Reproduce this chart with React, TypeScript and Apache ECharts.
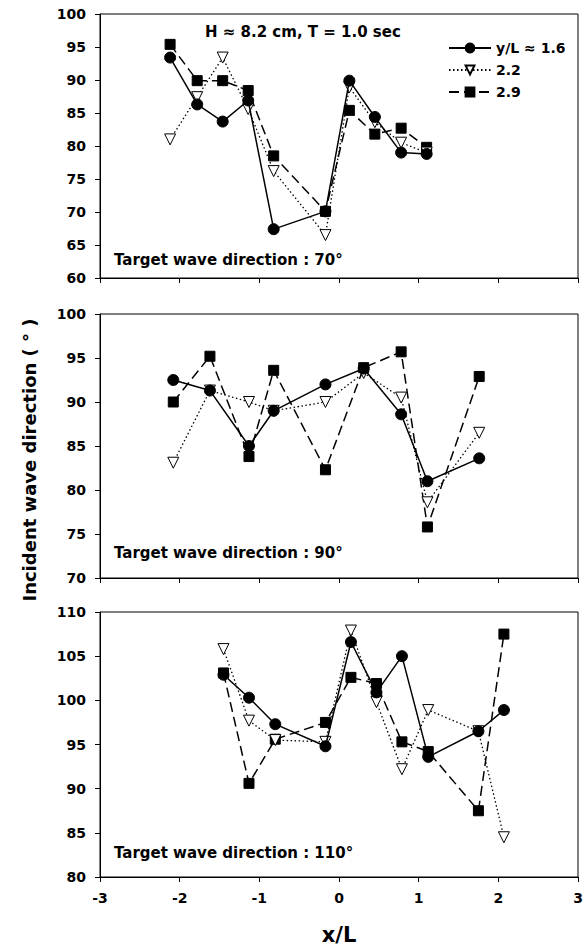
import React, { useEffect, useRef } from "react";
import * as echarts from "echarts";

const seriesNames = ["y/L ≈ 1.6", "2.2", "2.9"];

// Panel 1: target 70°
const p1X = [-2.12, -1.78, -1.46, -1.14, -0.82, -0.17, 0.13, 0.45, 0.78, 1.1];
const p1A = [93.4, 86.3, 83.7, 86.9, 67.4, 70.1, 89.9, 84.4, 79.0, 78.8];
const p1B = [81.0, 87.4, 93.4, 85.6, 76.2, 66.5, 88.9, 83.6, 80.5, 79.0];
const p1C = [95.4, 89.9, 89.9, 88.4, 78.5, 70.1, 85.4, 81.8, 82.7, 79.8];

// Panel 2: target 90°
const p2X = [-2.08, -1.62, -1.13, -0.82, -0.17, 0.31, 0.78, 1.11, 1.76];
const p2A = [92.5, 91.3, 85.0, 89.0, 92.0, 93.8, 88.6, 81.0, 83.6];
const p2B = [83.1, 91.3, 90.0, 89.0, 90.0, 93.3, 90.5, 78.6, 86.5];
const p2C = [90.0, 95.2, 83.8, 93.6, 82.3, 93.9, 95.7, 75.8, 92.9];

// Panel 3: target 110°
const p3X = [-1.45, -1.13, -0.8, -0.17, 0.15, 0.47, 0.79, 1.12, 1.75, 2.07];
const p3A = [102.9, 100.3, 97.3, 94.8, 106.6, 100.9, 105.0, 93.6, 96.5, 98.9];
const p3B = [105.8, 97.7, 95.5, 95.3, 107.9, 99.8, 92.2, 98.9, 96.5, 84.5];
const p3C = [103.1, 90.6, 95.6, 97.5, 102.6, 101.9, 95.3, 94.2, 87.5, 107.5];

const yRanges = [
  [60, 100],
  [70, 100],
  [80, 110],
];
const xTicks = [-3, 3];
const panelLabels = [
  "Target wave direction : 70°",
  "Target wave direction : 90°",
  "Target wave direction : 110°",
];
const titleText = "H ≈ 8.2 cm, T = 1.0 sec";
const yTitle = "Incident wave direction ( ° )";
const xTitle = "x/L";

const FONT = "'DejaVu Sans', sans-serif";

export default function App() {
  const ref = useRef<HTMLDivElement>(null);
  useEffect(() => {
    if (!ref.current) return;
    const chart = echarts.init(ref.current, undefined, { renderer: "svg" });
    const grids = [
      { left: 100, top: 14, width: 478, height: 264 },
      { left: 100, top: 314, width: 478, height: 264 },
      { left: 100, top: 612, width: 478, height: 265 },
    ];
    const panels = [
      { x: p1X, ys: [p1A, p1B, p1C] },
      { x: p2X, ys: [p2A, p2B, p2C] },
      { x: p3X, ys: [p3A, p3B, p3C] },
    ];
    const styles = [
      { symbol: "circle", symbolSize: 11, rotate: 0, item: { color: "#000", borderColor: "#000", borderWidth: 1 }, line: { color: "#000", width: 1.5, type: "solid" as any } },
      { symbol: "triangle", symbolSize: 11, rotate: 180, item: { color: "#fff", borderColor: "#000", borderWidth: 1 }, line: { color: "#000", width: 1.3, type: [1.5, 2.5] as any } },
      { symbol: "rect", symbolSize: 10, rotate: 0, item: { color: "#000", borderColor: "#000", borderWidth: 1 }, line: { color: "#000", width: 1.5, type: [10, 5] as any } },
    ];
    const series: any[] = [];
    panels.forEach((p, gi) => {
      p.ys.forEach((ys, si) => {
        const s = styles[si];
        series.push({
          type: "line",
          name: seriesNames[si],
          xAxisIndex: gi,
          yAxisIndex: gi,
          data: p.x.map((x, i) => [x, ys[i]]),
          symbol: s.symbol,
          symbolSize: s.symbolSize,
          symbolRotate: s.rotate,
          showAllSymbol: true,
          itemStyle: s.item,
          lineStyle: s.line,
          z: 10 - si,
        });
      });
    });
    const labelStyle = { color: "#000", fontFamily: FONT, fontWeight: "bold" as const, fontSize: 14 };
    chart.setOption({
      animation: false,
      backgroundColor: "#fff",
      grid: grids.map((g) => ({ ...g, show: true, borderColor: "#000", borderWidth: 1, backgroundColor: "transparent" })),
      xAxis: grids.map((_, gi) => ({
        type: "value",
        gridIndex: gi,
        min: xTicks[0],
        max: xTicks[1],
        interval: 1,
        axisLine: { show: true, onZero: false, lineStyle: { color: "#000", width: 1 } },
        axisTick: { show: true, inside: false, length: 5, lineStyle: { color: "#000" } },
        axisLabel: { show: gi === 2, ...labelStyle, fontSize: 14, margin: 14 },
        splitLine: { show: false },
      })),
      yAxis: grids.map((_, gi) => ({
        type: "value",
        gridIndex: gi,
        min: yRanges[gi][0],
        max: yRanges[gi][1],
        interval: 5,
        axisLine: { show: true, onZero: false, lineStyle: { color: "#000", width: 1 } },
        axisTick: { show: true, inside: false, length: 5, lineStyle: { color: "#000" } },
        axisLabel: { ...labelStyle, fontSize: 14, margin: 14 },
        splitLine: { show: false },
      })),
      legend: {
        data: seriesNames,
        orient: "vertical",
        left: 443,
        top: 36,
        itemWidth: 42,
        itemHeight: 11,
        itemGap: 8,
        textStyle: { ...labelStyle, fontSize: 14 },
        selectedMode: false,
      },
      graphic: [
        {
          type: "text",
          left: 205,
          top: 24,
          style: { text: titleText, fill: "#000", font: `bold 15px ${FONT}` },
        },
        ...panelLabels.map((t, i) => ({
          type: "text",
          left: 114,
          top: [252, 545, 845][i],
          style: { text: t, fill: "#000", font: `bold 15px ${FONT}` },
        })),
        {
          type: "text",
          x: 29,
          y: 460,
          rotation: Math.PI / 2,
          style: {
            text: yTitle,
            fill: "#000",
            font: `bold 18px ${FONT}`,
            textAlign: "center",
            textVerticalAlign: "middle",
          },
        },
        {
          type: "text",
          x: 339,
          y: 935,
          style: {
            text: xTitle,
            fill: "#000",
            font: `bold 21px ${FONT}`,
            textAlign: "center",
            textVerticalAlign: "middle",
          },
        },
      ],
      series,
    });
    return () => chart.dispose();
  }, []);
  return <div ref={ref} style={{ width: 587, height: 949, position: "absolute", left: 0, top: 0 }} />;
}
